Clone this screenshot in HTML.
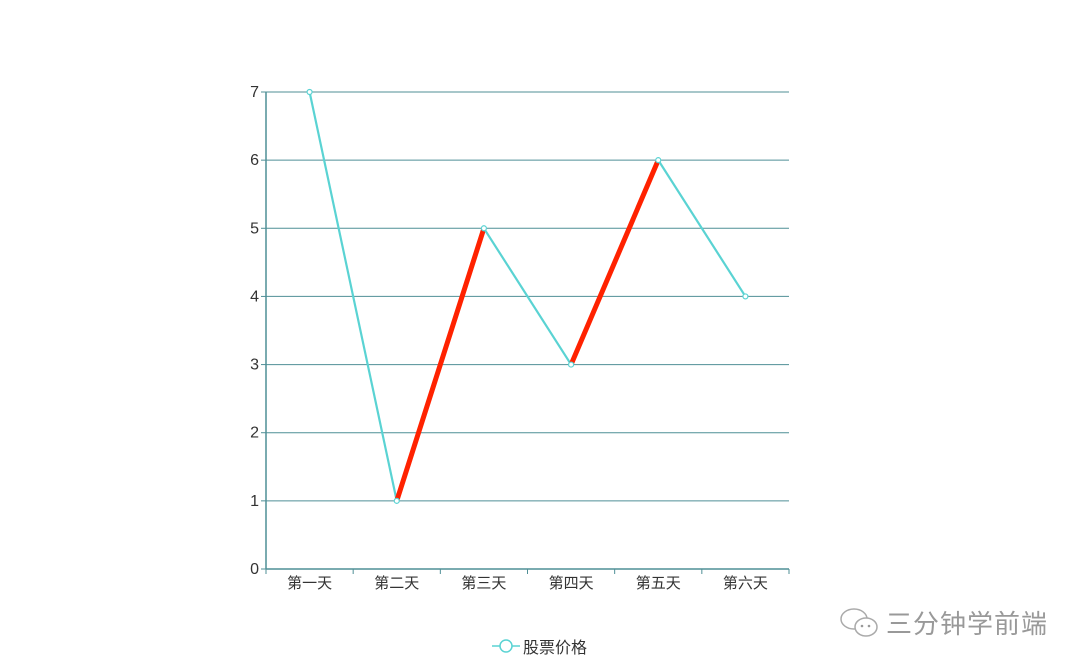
<!DOCTYPE html>
<html><head><meta charset="utf-8"><style>
body{margin:0;background:#fff;width:1080px;height:667px;overflow:hidden}
svg text{font-family:"Liberation Sans","Noto Sans CJK SC",sans-serif}
</style></head><body>
<svg id="c" width="1080" height="667"></svg>
<script>
const categories=["第一天","第二天","第三天","第四天","第五天","第六天"];
const prices=[7,1,5,3,6,4];
const yTicks=[0,1,2,3,4,5,6,7];
const NS="http://www.w3.org/2000/svg";
const svg=document.getElementById('c');
const L=266,R=789,T=92,B=569,yMax=7;
const bw=(R-L)/categories.length;
const x=i=>L+bw*(i+0.5);
const y=v=>B-(B-T)*v/yMax;
function mk(t,a,p){const e=document.createElementNS(NS,t);for(const k in a)e.setAttribute(k,a[k]);(p||svg).appendChild(e);return e;}
const axisC="#4f8f96";
const grid=mk('g',{});


yTicks.forEach(v=>{
  const l=mk('line',{x1:L,x2:R,y1:y(v),y2:y(v),stroke:axisC,'stroke-width':1},grid);
  
  
  mk('line',{x1:L-5,x2:L,y1:y(v),y2:y(v),stroke:axisC},grid);
  const t=mk('text',{x:L-7,y:y(v)+5,'text-anchor':'end','font-size':16,fill:'#333'});
  t.textContent=v;
  
  
});
const ya=mk('line',{x1:L,x2:L,y1:T,y2:B,stroke:axisC,'stroke-width':1.5});


const xa=mk('line',{x1:L,x2:R,y1:B,y2:B,stroke:axisC,'stroke-width':1.5});


for(let i=0;i<=categories.length;i++)mk('line',{x1:L+bw*i,x2:L+bw*i,y1:B,y2:B+5,stroke:axisC});
categories.forEach((c,i)=>{
  const t=mk('text',{x:x(i),y:B+19,'text-anchor':'middle','font-size':15,fill:'#333'});
  t.textContent=c;
  
  
});
for(let i=0;i<prices.length-1;i++){
  const up=(i===1||i===3);
  const s=mk('line',{x1:x(i),y1:y(prices[i]),x2:x(i+1),y2:y(prices[i+1]),stroke:up?'#ff2200':'#5ad3d3','stroke-width':up?5:2.2,'stroke-linecap':'round'});
  
  
}
prices.forEach((v,i)=>{
  const p=mk('circle',{cx:x(i),cy:y(v),r:2.5,fill:'#fff',stroke:'#5ad3d3','stroke-width':1.2});
  
  
});
</script>
<div style="position:absolute;left:492px;top:634px;height:24px;display:flex;align-items:center;font:16px 'Liberation Sans','Noto Sans CJK SC',sans-serif;color:#333">
<svg width="28" height="16"><line x1="0" y1="8" x2="28" y2="8" stroke="#5ad3d3" stroke-width="1.5"/><circle cx="14" cy="8" r="6" fill="#fff" stroke="#5ad3d3" stroke-width="1.5"/></svg>
<span style="margin-left:3px">股票价格</span></div>
<div style="position:absolute;left:838px;top:604px;display:flex;align-items:center;font:26px 'Noto Sans CJK SC',sans-serif;color:#999;letter-spacing:1px">
<svg width="44" height="34"><ellipse cx="16" cy="13" rx="13" ry="10" fill="none" stroke="#aaa" stroke-width="1.5"/><ellipse cx="28" cy="21" rx="11" ry="9" fill="#fff" stroke="#aaa" stroke-width="1.5"/><circle cx="24" cy="20" r="1.3" fill="#999"/><circle cx="31" cy="20" r="1.3" fill="#999"/></svg>
<span style="margin-left:4px">三分钟学前端</span></div>
</body></html>
